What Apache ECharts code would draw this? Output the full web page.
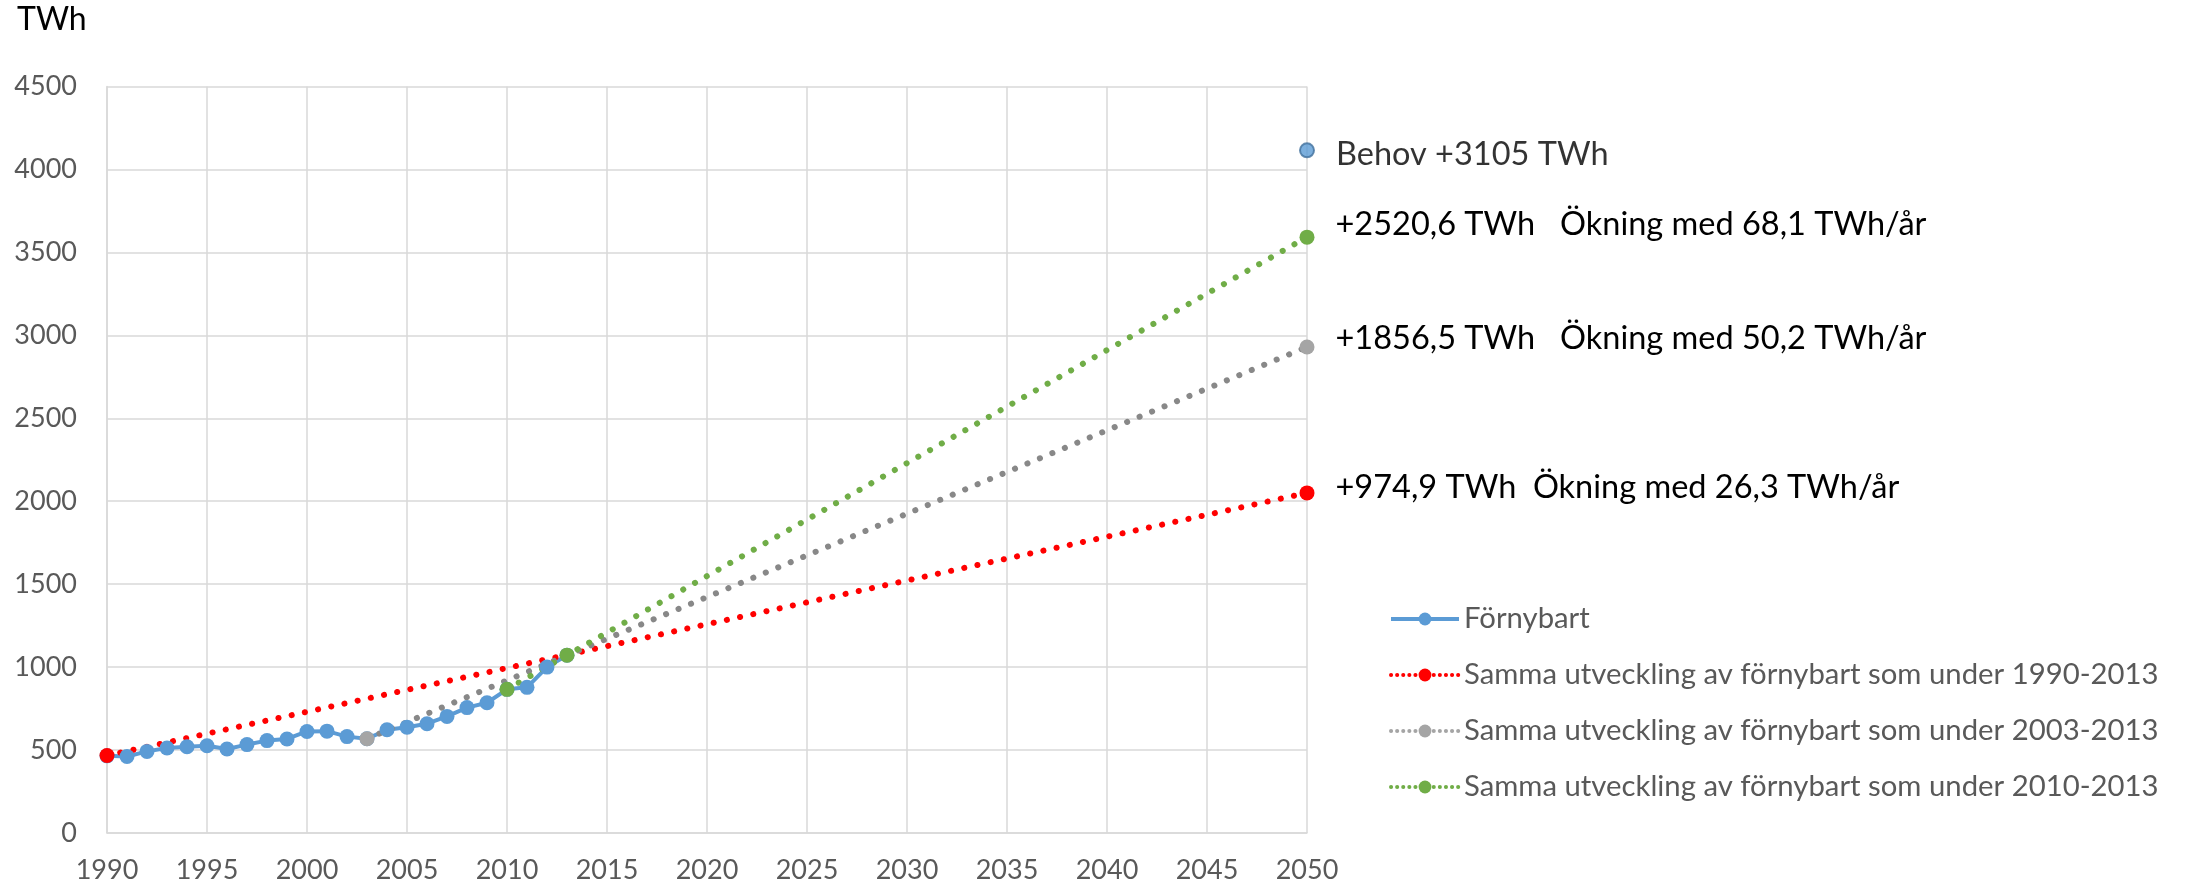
<!DOCTYPE html>
<html>
<head>
<meta charset="utf-8">
<script src="https://cdn.jsdelivr.net/npm/echarts@6/dist/echarts.min.js"></script>
<style>
html,body{margin:0;padding:0;background:#fff;}
#chart{width:2188px;height:887px;}
</style>
</head>
<body>
<div id="chart"></div>
<script>
// ---- data ----
var blueYears = [1990,1991,1992,1993,1994,1995,1996,1997,1998,1999,2000,2001,2002,2003,2004,2005,2006,2007,2008,2009,2010,2011,2012,2013];
var blueValues = [465,461,492,512,520,526,506,533,557,567,612,614,581,568,622,638,659,703,756,785,866,878,1000,1072];

var redYears = [1990, 2050];
var redValues = [467, 2050];

var grayYears = [2003, 2050];
var grayValues = [568, 2930];

var greenYears = [2010, 2013, 2050];
var greenValues = [866, 1072, 3592];

var behovYears = [2050];
var behovValues = [4115];

var seriesNames = ['Förnybart',
  'Samma utveckling av förnybart som under 1990-2013',
  'Samma utveckling av förnybart som under 2003-2013',
  'Samma utveckling av förnybart som under 2010-2013'];

var endLabels = {
  red: '+974,9 TWh  Ökning med 26,3 TWh/år',
  gray: '+1856,5 TWh   Ökning med 50,2 TWh/år',
  green: '+2520,6 TWh   Ökning med 68,1 TWh/år',
  behov: 'Behov +3105 TWh'
};

var yTicks = {min: 0, max: 4500, interval: 500};
var xTicks = {min: 1990, max: 2050, interval: 5};

function pairs(xs, ys){ return xs.map(function(x,i){ return [x, ys[i]]; }); }

var FONT = 'Lato, "Open Sans", sans-serif';

function endLabel(text, dy){
  return {
    show: true,
    position: 'right',
    distance: 21,
    offset: [0, dy],
    color: '#000',
    fontFamily: FONT,
    fontSize: 32.5,
    formatter: function(p){ return p.data[0] === 2050 ? text : ''; }
  };
}

var dotted = function(color, width){
  return {color: color, width: width, type: [0.1, 13.4], cap: 'round'};
};
var legendDotted = function(color){
  return {color: color, width: 4, type: [0.1, 6], cap: 'round'};
};

var chart = echarts.init(document.getElementById('chart'));
chart.setOption({
  animation: false,
  backgroundColor: '#fff',
  title: {
    text: 'TWh', left: 17, top: 4, padding: 0,
    textStyle: {fontFamily: FONT, fontSize: 32, fontWeight: 'normal', color: '#000'}
  },
  grid: {left: 107, right: 881, top: 86.5, bottom: 54, containLabel: false},
  xAxis: {
    type: 'value', min: xTicks.min, max: xTicks.max, interval: xTicks.interval,
    axisLine: {show: true, lineStyle: {color: '#D9D9D9', width: 1.5}},
    axisTick: {show: false},
    splitLine: {show: true, lineStyle: {color: '#D9D9D9', width: 1.5}},
    axisLabel: {fontFamily: FONT, fontSize: 27, color: '#595959', margin: 24,
      formatter: function(v){ return String(v); }}
  },
  yAxis: {
    type: 'value', min: yTicks.min, max: yTicks.max, interval: yTicks.interval,
    axisLine: {show: true, lineStyle: {color: '#D9D9D9', width: 1.5}},
    axisTick: {show: false},
    splitLine: {show: true, lineStyle: {color: '#D9D9D9', width: 1.5}},
    axisLabel: {fontFamily: FONT, fontSize: 27, color: '#595959', margin: 30,
      formatter: function(v){ return String(v); }}
  },
  legend: {
    data: [
      {name: seriesNames[0], lineStyle: {width: 4}},
      {name: seriesNames[1], lineStyle: legendDotted('#FF0000')},
      {name: seriesNames[2], lineStyle: legendDotted('#A5A5A5')},
      {name: seriesNames[3], lineStyle: legendDotted('#70AD47')}
    ],
    orient: 'vertical',
    left: 1389, top: 604,
    itemWidth: 68, itemHeight: 16, itemGap: 26,
    padding: 0,
    textStyle: {fontFamily: FONT, fontSize: 29.3, color: '#595959', lineHeight: 30}
  },
  series: [
    {
      name: seriesNames[0], type: 'line',
      data: pairs(blueYears, blueValues),
      symbol: 'circle', symbolSize: 15,
      lineStyle: {color: '#5B9BD5', width: 4},
      itemStyle: {color: '#5B9BD5'}
    },
    {
      name: seriesNames[1], type: 'line',
      data: pairs(redYears, redValues),
      symbol: 'circle', symbolSize: 15,
      lineStyle: dotted('#FF0000', 6),
      itemStyle: {color: '#FF0000'},
      label: endLabel(endLabels.red, -5)
    },
    {
      name: seriesNames[2], type: 'line',
      data: pairs(grayYears, grayValues),
      symbol: 'circle', symbolSize: 15,
      lineStyle: dotted('#888888', 6),
      itemStyle: {color: '#A5A5A5'},
      label: endLabel(endLabels.gray, -8)
    },
    {
      name: seriesNames[3], type: 'line',
      data: pairs(greenYears, greenValues),
      symbol: 'circle', symbolSize: 15,
      lineStyle: dotted('#70AD47', 6),
      itemStyle: {color: '#70AD47'},
      label: endLabel(endLabels.green, -13)
    },
    {
      name: 'Behov', type: 'scatter',
      data: pairs(behovYears, behovValues),
      symbol: 'circle', symbolSize: 14,
      itemStyle: {color: '#5B9BD5', borderColor: '#41719C', borderWidth: 2},
      label: endLabel(endLabels.behov, 4)
    }
  ]
});
</script>
</body>
</html>
